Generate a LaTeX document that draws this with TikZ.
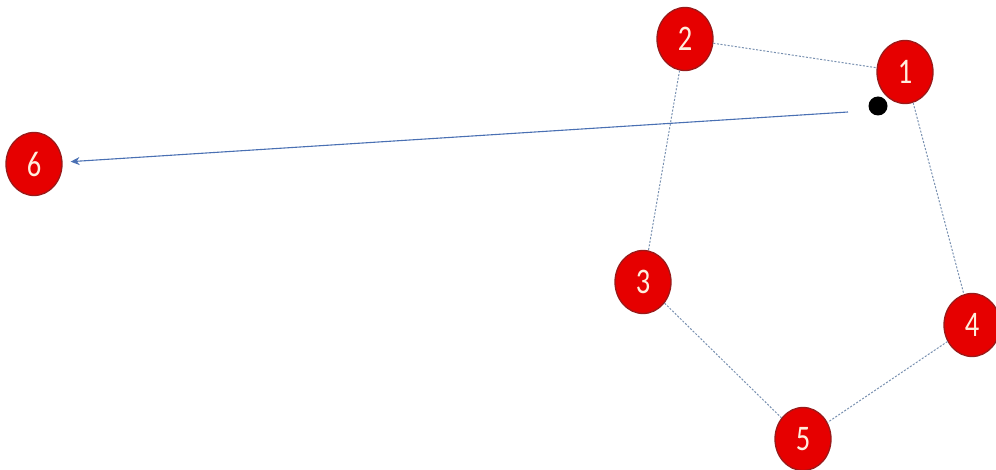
\documentclass[tikz,border=0pt]{standalone}
\usepackage{fontspec}
\setmainfont{Carlito}
\usetikzlibrary{arrows.meta,shapes.geometric}
\definecolor{nodered}{HTML}{E60000}
\definecolor{noderim}{HTML}{9A1A1A}
\definecolor{edgeblue}{HTML}{7890B0}
\definecolor{arrowblue}{HTML}{4A70B3}
\definecolor{digit}{HTML}{FFEEDD}
\tikzset{
  vtx/.style={ellipse, draw=noderim, line width=1.3pt, fill=nodered, minimum width=56pt, minimum height=63pt, inner sep=0pt, text=digit, font=\fontsize{30}{30}\selectfont},
  link/.style={draw=edgeblue, line width=1pt, dash pattern=on 2pt off 1.6pt},
  arrowline/.style={draw=arrowblue, line width=1.1pt, -{Stealth[length=9pt,width=8pt]}}
}
\newcommand{\dg}[1]{\scalebox{0.95}[1.2]{#1}}
\begin{document}
\begin{tikzpicture}[x=1pt,y=-1pt]
\useasboundingbox (0,0) rectangle (996,470);
\node[vtx] (n2) at (685,39) {\dg{2}};
\node[vtx] (n1) at (905,72) {\dg{1}};
\node[vtx] (n6) at (34,164) {\dg{6}};
\node[vtx] (n3) at (643,282) {\dg{3}};
\node[vtx] (n4) at (972,325) {\dg{4}};
\node[vtx] (n5) at (803,439) {\dg{5}};
\node[circle, fill=black, minimum size=19pt, inner sep=0pt] (dot) at (878,106) {};
\coordinate (start) at (848,112);
\draw[link] (n2) -- (n1);
\draw[link] (n2) -- (n3);
\draw[link] (n1) -- (n4);
\draw[link] (n4) -- (n5);
\draw[link] (n3) -- (n5);
\draw[arrowline, shorten >=8pt] (start) -- (n6);
\end{tikzpicture}
\end{document}
